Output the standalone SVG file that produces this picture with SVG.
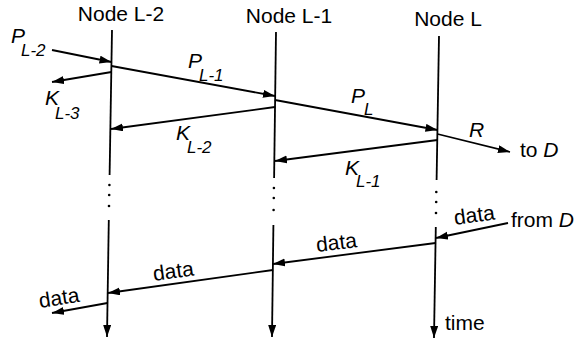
<svg xmlns="http://www.w3.org/2000/svg" width="580" height="343" viewBox="0 0 580 343">
<style>
.ln{stroke:#000;stroke-width:1.8;fill:none}
.t{font-family:"Liberation Sans",Arial,sans-serif;font-size:21px;fill:#000}
.i{font-family:"Liberation Sans",Arial,sans-serif;font-style:italic;font-size:21px;fill:#000}
.s{font-family:"Liberation Sans",Arial,sans-serif;font-style:italic;font-size:17px;fill:#000}
</style>
<defs>
<marker id="ah" markerUnits="userSpaceOnUse" markerWidth="13" markerHeight="9" refX="12" refY="4" orient="auto">
<path d="M0,0 L12,4 L0,8 z" fill="#000"/>
</marker>
</defs>
<g id="node-L-2">
<text class="t" x="121" y="21" text-anchor="middle">Node L-2</text>
<line class="ln" x1="112" y1="30" x2="109.6" y2="175"/>
<circle cx="109.4" cy="185" r="1.3"/><circle cx="109.2" cy="195" r="1.3"/><circle cx="109" cy="206" r="1.3"/>
<line class="ln" x1="108.8" y1="220" x2="107" y2="337" marker-end="url(#ah)"/>
</g>
<g id="node-L-1">
<text class="t" x="289" y="23" text-anchor="middle">Node L-1</text>
<line class="ln" x1="276" y1="32" x2="274.1" y2="178"/>
<circle cx="273.9" cy="188" r="1.3"/><circle cx="273.8" cy="198" r="1.3"/><circle cx="273.6" cy="210" r="1.3"/>
<line class="ln" x1="273.4" y1="225" x2="272" y2="337" marker-end="url(#ah)"/>
</g>
<g id="node-L">
<text class="t" x="448" y="26" text-anchor="middle">Node L</text>
<line class="ln" x1="439" y1="36" x2="436.6" y2="180"/>
<circle cx="436.3" cy="192" r="1.3"/><circle cx="436.2" cy="202" r="1.3"/><circle cx="436" cy="213" r="1.3"/>
<line class="ln" x1="435.8" y1="227" x2="434" y2="338" marker-end="url(#ah)"/>
<text class="t" x="445" y="330">time</text>
</g>
<g id="connectors">
<line class="ln" x1="52" y1="50" x2="111.5" y2="62" marker-end="url(#ah)"/>
<line class="ln" x1="111.5" y1="72" x2="52" y2="82" marker-end="url(#ah)"/>
<line class="ln" x1="111.5" y1="66" x2="275" y2="96" marker-end="url(#ah)"/>
<line class="ln" x1="275" y1="107" x2="111" y2="129" marker-end="url(#ah)"/>
<line class="ln" x1="275" y1="100" x2="437.5" y2="130" marker-end="url(#ah)"/>
<line class="ln" x1="437.5" y1="134" x2="510" y2="152" marker-end="url(#ah)"/>
<line class="ln" x1="437.5" y1="140" x2="275" y2="161" marker-end="url(#ah)"/>
<line class="ln" x1="508" y1="223" x2="436" y2="238" marker-end="url(#ah)"/>
<line class="ln" x1="435.6" y1="243" x2="273" y2="264" marker-end="url(#ah)"/>
<line class="ln" x1="273" y1="270" x2="108" y2="293" marker-end="url(#ah)"/>
<line class="ln" x1="107.5" y1="303" x2="52" y2="313" marker-end="url(#ah)"/>
</g>
<g id="labels">
<text class="i" x="11" y="43">P</text><text class="s" x="21" y="56">L-2</text>
<text class="i" x="45" y="105">K</text><text class="s" x="55" y="119">L-3</text>
<text class="i" x="188" y="68">P</text><text class="s" x="199" y="81">L-1</text>
<text class="i" x="176" y="140">K</text><text class="s" x="187" y="153">L-2</text>
<text class="i" x="351" y="103">P</text><text class="s" x="364" y="115">L</text>
<text class="i" x="469" y="137">R</text>
<text class="t" x="520" y="157">to <tspan font-style="italic">D</tspan></text>
<text class="i" x="345" y="175">K</text><text class="s" x="356" y="187">L-1</text>
<text class="t" x="455" y="225" transform="rotate(-8 455 225)">data</text>
<text class="t" x="511" y="227">from <tspan font-style="italic">D</tspan></text>
<text class="t" x="317" y="252" transform="rotate(-7 317 252)">data</text>
<text class="t" x="154" y="281" transform="rotate(-8 154 281)">data</text>
<text class="t" x="40" y="308" transform="rotate(-9 40 308)">data</text>
</g>
</svg>
